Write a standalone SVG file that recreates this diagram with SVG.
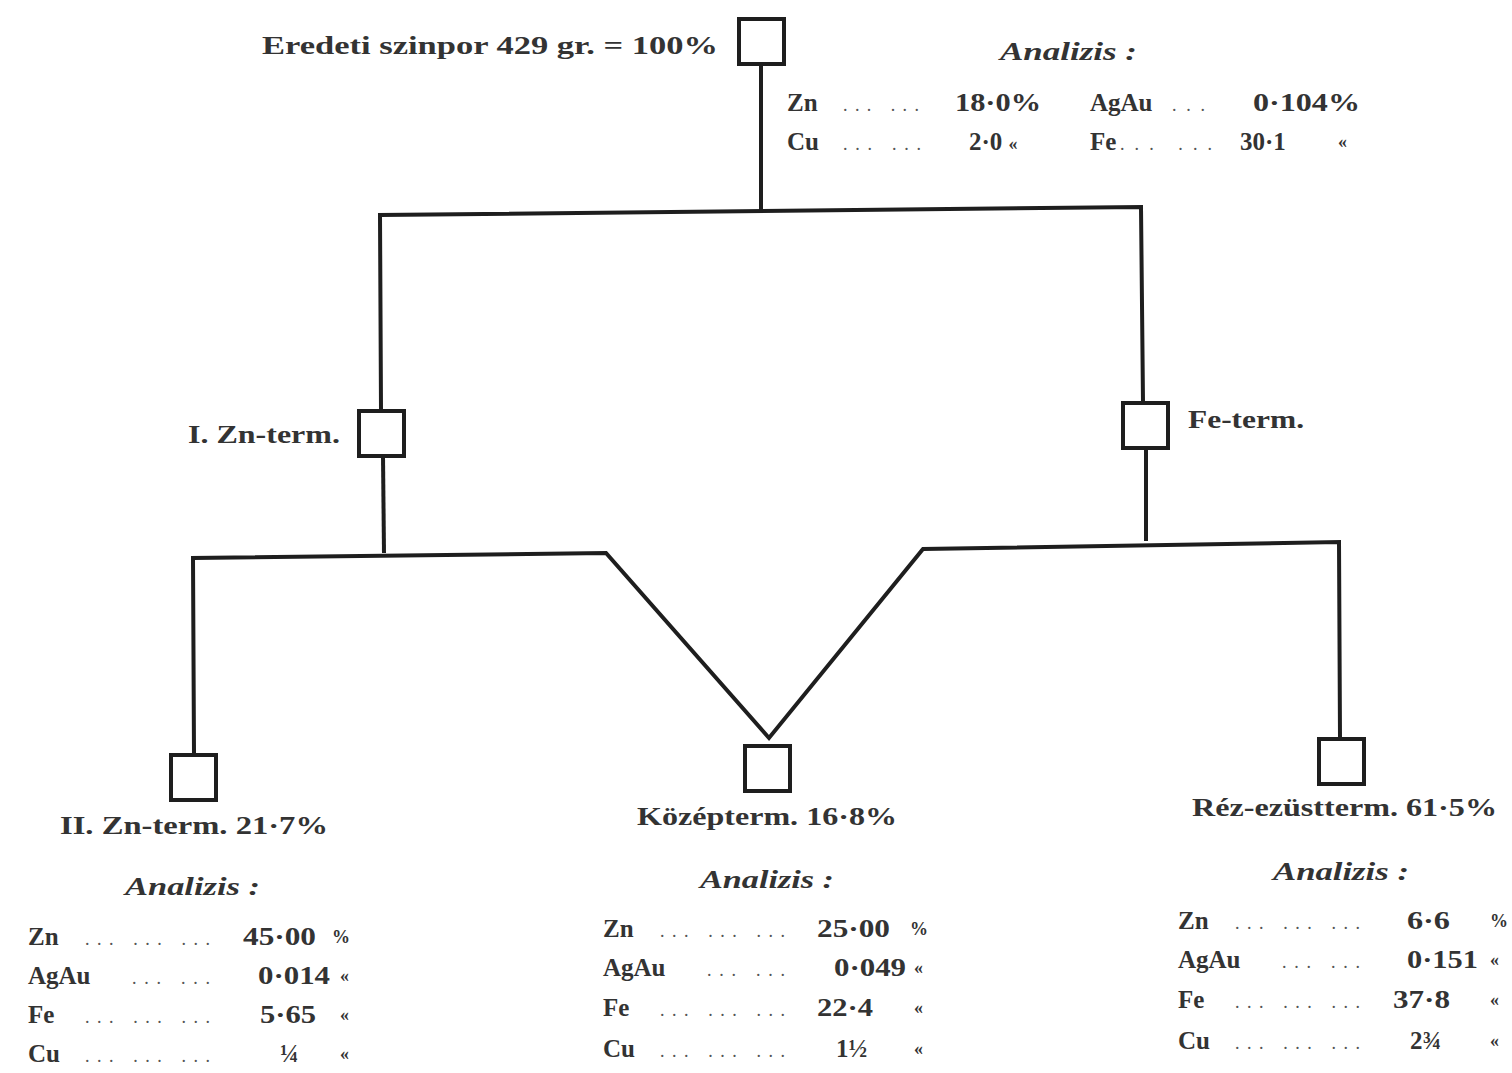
<svg xmlns="http://www.w3.org/2000/svg" width="1512" height="1073" viewBox="0 0 1512 1073">
<style>
.bg{fill:#ffffff}
.box{fill:#ffffff;stroke:#1e1e1e;stroke-width:4}
.ln{fill:none;stroke:#1e1e1e;stroke-width:4;stroke-linejoin:miter}
text{font-family:"Liberation Serif","DejaVu Serif",serif;font-weight:bold;fill:#333333;font-size:25px}
.it{font-style:italic;font-size:26px}
.dots{font-weight:normal;font-size:18px;fill:#555555}
.u{font-size:18px}
</style>
<rect class="bg" x="0" y="0" width="1512" height="1073"/>
<g id="connectors">
<polyline class="ln" points="761,64 761,211"/>
<polyline class="ln" points="381,410 380,215 1141,207 1143,402"/>
<polyline class="ln" points="383,456 384,553"/>
<polyline class="ln" points="194,753 193,558 606,553 769,738 923,549 1339,542 1340,738"/>
<polyline class="ln" points="1146,448 1146,541"/>
</g>
<g id="node-eredeti">
<rect class="box" x="739" y="19" width="45" height="45"/>
<text x="262" y="54" textLength="456" lengthAdjust="spacingAndGlyphs">Eredeti szinpor 429 gr. = 100%</text>
<text class="it" x="1000" y="60" textLength="137" lengthAdjust="spacingAndGlyphs">Analizis :</text>
<text x="787" y="111">Zn</text>
<text class="dots" x="843" y="111" textLength="76" lengthAdjust="spacing">... ...</text>
<text x="955" y="111" textLength="86" lengthAdjust="spacingAndGlyphs">18·0%</text>
<text x="1090" y="111">AgAu</text>
<text class="dots" x="1172" y="111" textLength="33" lengthAdjust="spacing">...</text>
<text x="1253" y="111" textLength="107" lengthAdjust="spacingAndGlyphs">0·104%</text>
<text x="787" y="150">Cu</text>
<text class="dots" x="843" y="150" textLength="78" lengthAdjust="spacing">... ...</text>
<text x="969" y="150">2·0 <tspan class="u">«</tspan></text>
<text x="1090" y="150">Fe</text>
<text class="dots" x="1120" y="150" textLength="92" lengthAdjust="spacing">... ...</text>
<text x="1240" y="150">30·1</text>
<text class="u" x="1338" y="148">«</text>
</g>
<g id="node-zn1">
<rect class="box" x="359" y="411" width="45" height="45"/>
<text x="188" y="443" textLength="152" lengthAdjust="spacingAndGlyphs">I. Zn-term.</text>
</g>
<g id="node-fe">
<rect class="box" x="1123" y="403" width="45" height="45"/>
<text x="1188" y="428" textLength="116" lengthAdjust="spacingAndGlyphs">Fe-term.</text>
</g>
<g id="node-zn2">
<rect class="box" x="171" y="755" width="45" height="45"/>
<text x="60" y="834" textLength="268" lengthAdjust="spacingAndGlyphs">II. Zn-term. 21·7%</text>
<text class="it" x="125" y="895" textLength="135" lengthAdjust="spacingAndGlyphs">Analizis :</text>
<text x="28" y="945">Zn</text>
<text class="dots" x="85" y="945" textLength="125" lengthAdjust="spacing">... ... ...</text>
<text x="243" y="945" textLength="73" lengthAdjust="spacingAndGlyphs">45·00</text>
<text class="u" x="332" y="943">%</text>
<text x="28" y="984">AgAu</text>
<text class="dots" x="132" y="984" textLength="78" lengthAdjust="spacing">... ...</text>
<text x="258" y="984" textLength="72" lengthAdjust="spacingAndGlyphs">0·014</text>
<text class="u" x="340" y="982">«</text>
<text x="28" y="1023">Fe</text>
<text class="dots" x="85" y="1023" textLength="125" lengthAdjust="spacing">... ... ...</text>
<text x="260" y="1023" textLength="56" lengthAdjust="spacingAndGlyphs">5·65</text>
<text class="u" x="340" y="1021">«</text>
<text x="28" y="1062">Cu</text>
<text class="dots" x="85" y="1062" textLength="125" lengthAdjust="spacing">... ... ...</text>
<text x="280" y="1062">¼</text>
<text class="u" x="340" y="1060">«</text>
</g>
<g id="node-kozep">
<rect class="box" x="745" y="746" width="45" height="45"/>
<text x="637" y="825" textLength="260" lengthAdjust="spacingAndGlyphs">Középterm. 16·8%</text>
<text class="it" x="700" y="888" textLength="134" lengthAdjust="spacingAndGlyphs">Analizis :</text>
<text x="603" y="937">Zn</text>
<text class="dots" x="660" y="937" textLength="125" lengthAdjust="spacing">... ... ...</text>
<text x="817" y="937" textLength="73" lengthAdjust="spacingAndGlyphs">25·00</text>
<text class="u" x="910" y="935">%</text>
<text x="603" y="976">AgAu</text>
<text class="dots" x="707" y="976" textLength="78" lengthAdjust="spacing">... ...</text>
<text x="834" y="976" textLength="72" lengthAdjust="spacingAndGlyphs">0·049</text>
<text class="u" x="914" y="974">«</text>
<text x="603" y="1016">Fe</text>
<text class="dots" x="660" y="1016" textLength="125" lengthAdjust="spacing">... ... ...</text>
<text x="817" y="1016" textLength="56" lengthAdjust="spacingAndGlyphs">22·4</text>
<text class="u" x="914" y="1014">«</text>
<text x="603" y="1057">Cu</text>
<text class="dots" x="660" y="1057" textLength="125" lengthAdjust="spacing">... ... ...</text>
<text x="836" y="1057">1½</text>
<text class="u" x="914" y="1055">«</text>
</g>
<g id="node-rez">
<rect class="box" x="1319" y="739" width="45" height="45"/>
<text x="1192" y="816" textLength="305" lengthAdjust="spacingAndGlyphs">Réz-ezüstterm. 61·5%</text>
<text class="it" x="1273" y="880" textLength="136" lengthAdjust="spacingAndGlyphs">Analizis :</text>
<text x="1178" y="929">Zn</text>
<text class="dots" x="1235" y="929" textLength="125" lengthAdjust="spacing">... ... ...</text>
<text x="1407" y="929" textLength="43" lengthAdjust="spacingAndGlyphs">6·6</text>
<text class="u" x="1490" y="927">%</text>
<text x="1178" y="968">AgAu</text>
<text class="dots" x="1282" y="968" textLength="78" lengthAdjust="spacing">... ...</text>
<text x="1407" y="968" textLength="71" lengthAdjust="spacingAndGlyphs">0·151</text>
<text class="u" x="1490" y="966">«</text>
<text x="1178" y="1008">Fe</text>
<text class="dots" x="1235" y="1008" textLength="125" lengthAdjust="spacing">... ... ...</text>
<text x="1393" y="1008" textLength="57" lengthAdjust="spacingAndGlyphs">37·8</text>
<text class="u" x="1490" y="1006">«</text>
<text x="1178" y="1049">Cu</text>
<text class="dots" x="1235" y="1049" textLength="125" lengthAdjust="spacing">... ... ...</text>
<text x="1410" y="1049">2¾</text>
<text class="u" x="1490" y="1047">«</text>
</g>
</svg>
